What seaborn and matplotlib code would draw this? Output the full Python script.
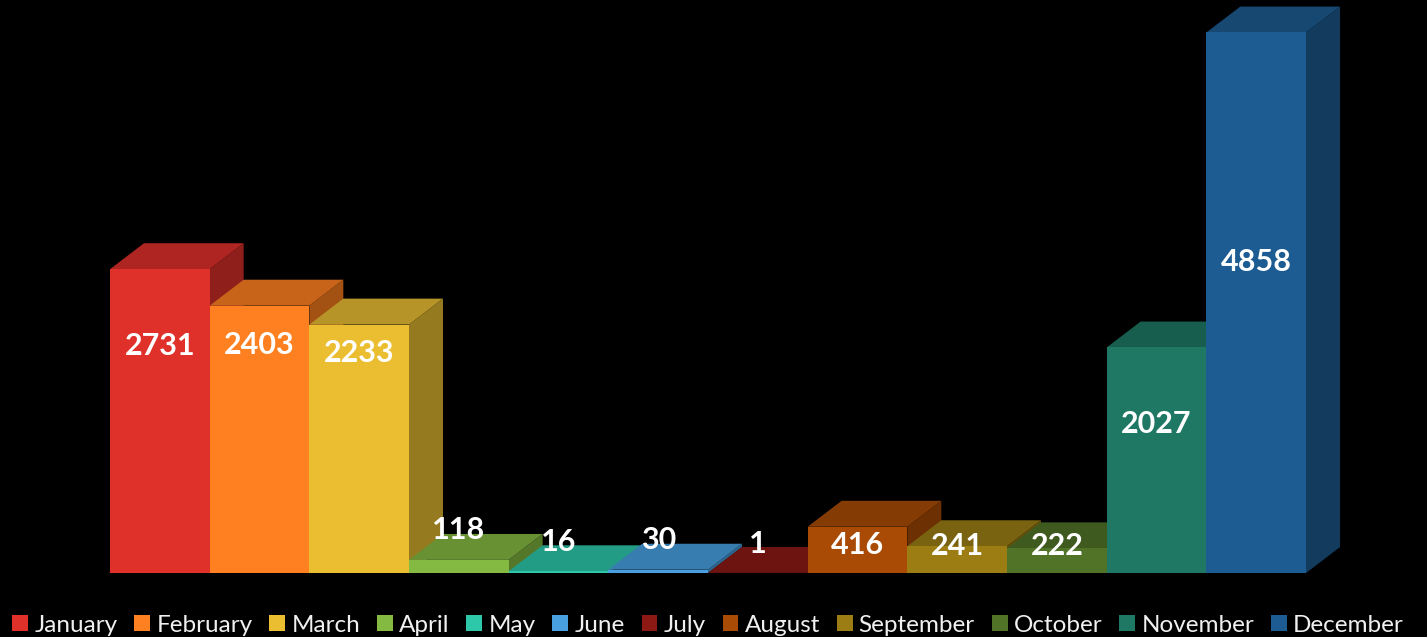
import pandas as pd
import seaborn as sns
import matplotlib.pyplot as plt
from matplotlib.patches import Polygon
from matplotlib.colors import to_rgb

months = ['January', 'February', 'March', 'April', 'May', 'June',
          'July', 'August', 'September', 'October', 'November', 'December']
values = [2731, 2403, 2233, 118, 16, 30, 1, 416, 241, 222, 2027, 4858]
colors = ['#E0302A', '#FF8020', '#EBBE32', '#84BA41', '#2DC8AA', '#48A0E0',
          '#8C1914', '#AA4B05', '#9B7D14', '#507328', '#1E7864', '#1C5C92']

# where the value labels sit (data units), placed by hand like the original
label_y = [2038, 2047, 1976, 386, 278, 296, 260, 251, 242, 242, 1338, 2793]

df = pd.DataFrame({'month': months, 'value': values})

sns.set_style('dark')
plt.rcParams['font.family'] = ['Lato', 'DejaVu Sans']

fig = plt.figure(figsize=(14.27, 6.37), dpi=100, facecolor='black')
ax = fig.add_axes([110 / 1427, 64 / 637, 1196 / 1427, 573 / 637])
ax.set_facecolor('black')

sns.barplot(data=df, x='month', y='value', hue='month', palette=colors,
            width=1, saturation=1, ax=ax, legend=True)

ax.set_xlim(-0.5, 11.5)
ax.set_ylim(0, 5150)

# fake 3d depth
dx = 0.341
dy = 233

def shade(c, f):
    r, g, b = to_rgb(c)
    return (r * f, g * f, b * f)

for i, cont in enumerate(ax.containers):
    p = cont.patches[0]
    x0 = p.get_x()
    w = p.get_width()
    h = p.get_height()
    base_z = 2 + i * 3
    side = Polygon([(x0 + w, 0), (x0 + w + dx, dy), (x0 + w + dx, h + dy), (x0 + w, h)],
                   closed=True, fc=shade(colors[i], 0.64), ec='none',
                   zorder=base_z, clip_on=False)
    top = Polygon([(x0, h), (x0 + dx, h + dy), (x0 + w + dx, h + dy), (x0 + w, h)],
                  closed=True, fc=shade(colors[i], 0.78), ec='none',
                  zorder=base_z + 1, clip_on=False)
    ax.add_patch(side)
    ax.add_patch(top)
    p.set_zorder(base_z + 2)
    p.set_edgecolor('none')
    ax.text(x0 + w / 2, label_y[i], str(values[i]), color='white', fontsize=22,
            fontweight='bold', ha='center', va='center', zorder=100)

for s in ax.spines.values():
    s.set_visible(False)
ax.set_xticks([])
ax.set_yticks([])
ax.set_xlabel('')
ax.set_ylabel('')
ax.grid(False)

sns.move_legend(ax, 'center', bbox_to_anchor=(0.5, -0.091), ncol=12,
                frameon=False, title=None, fontsize=17.5, handlelength=0.65,
                handleheight=0.65, handletextpad=0.25, columnspacing=0.7,
                labelcolor='#F0F0F0')
for hnd in ax.get_legend().legend_handles:
    hnd.set_edgecolor('none')

fig.savefig('out.png', dpi=100, facecolor='black')
